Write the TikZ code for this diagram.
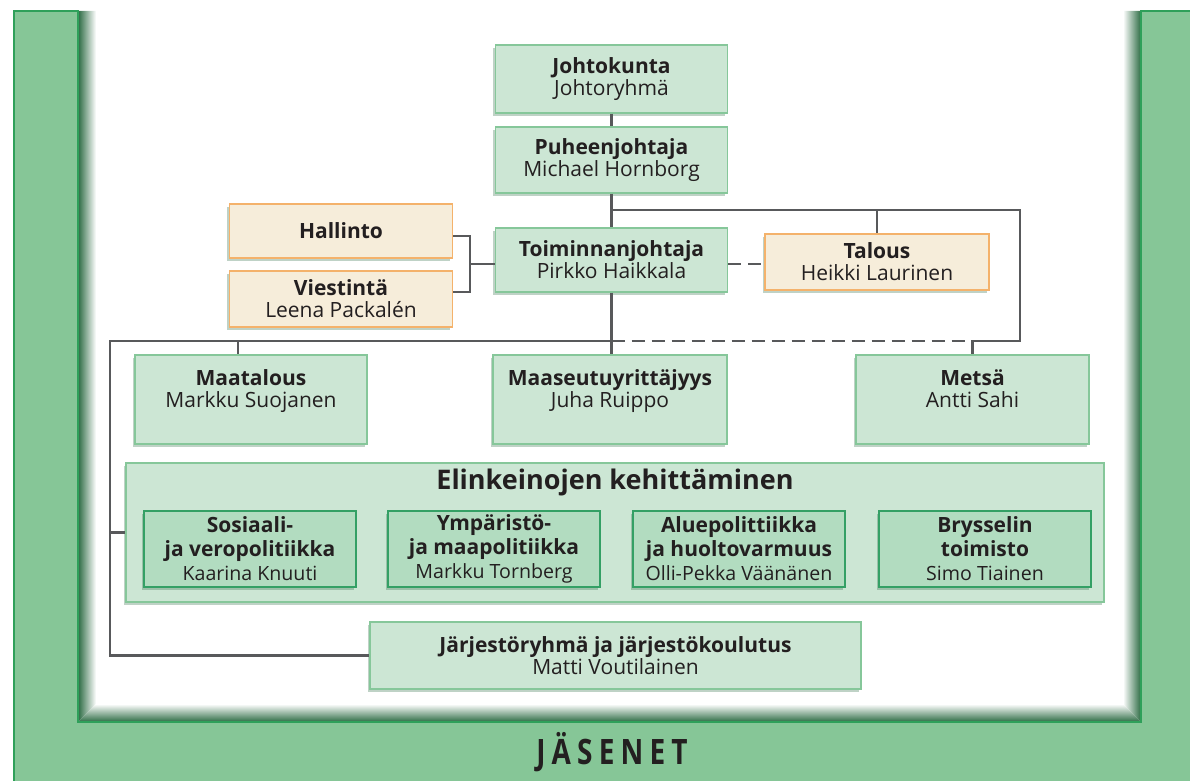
\documentclass[tikz,border=0pt]{standalone}
\usepackage{fontspec}
\setmainfont{Open Sans}
\usetikzlibrary{shadows}
\usepackage{xcolor}
\definecolor{cmint}{HTML}{CCE6D4}
\definecolor{cmintline}{HTML}{86C79A}
\definecolor{csub}{HTML}{B2DCC0}
\definecolor{csubline}{HTML}{34A065}
\definecolor{cbeige}{HTML}{F6EDDA}
\definecolor{corange}{HTML}{F4B26B}
\definecolor{cframe}{HTML}{86C697}
\definecolor{cframeline}{HTML}{2FA05A}
\definecolor{cshade}{HTML}{2C6B43}
\definecolor{cline}{HTML}{58595B}
\definecolor{ctext}{HTML}{231F20}

\newcommand{\subname}[1]{{\fontsize{9.8}{12}\selectfont #1}}

\tikzset{
  orgunit/.style={draw=cmintline, fill=cmint, line width=0.6pt, text=ctext,
    align=center, inner sep=0pt, font=\fontsize{10.5}{11}\selectfont,
    drop shadow={shadow xshift=-1.2pt, shadow yshift=-1.5pt, opacity=0.3, fill=cshade}},
  staffunit/.style={orgunit, draw=corange, fill=cbeige},
  subunit/.style={orgunit, draw=csubline, fill=csub, font=\fontsize{10.5}{12}\selectfont},
  link/.style={draw=cline, line width=1.25pt},
}

\begin{document}
\begin{tikzpicture}[x=0.5pt, y=-0.5pt]
  \useasboundingbox (0,0) rectangle (1190,781);

  % members frame
  \shade[left color=cshade, right color=white] (78,11) -- (96,11) -- (96,704) -- (78,722) -- cycle;
  \shade[left color=white, right color=cshade] (1123,11) -- (1141,11) -- (1141,722) -- (1123,704) -- cycle;
  \shade[top color=white, bottom color=cshade] (78,722) -- (96,704) -- (1123,704) -- (1141,722) -- cycle;
  \filldraw[fill=cframe, draw=cframeline, line width=0.6pt]
    (14,11) -- (78,11) -- (78,722) -- (1141,722) -- (1141,11) -- (1200,11)
    -- (1200,795) -- (14,795) -- cycle;
  \node[font=\fontsize{17.5}{17.5}\selectfont\bfseries, text=ctext] (jasenet) at (612,752)
    {\scalebox{0.8}[1]{\addfontfeature{LetterSpace=22}JÄSENET}};

  % top line
  \node[orgunit, minimum width=116pt, minimum height=34pt] (jk) at (611.5,79)
    {\textbf{Johtokunta}\\Johtoryhmä};
  \node[orgunit, minimum width=116pt, minimum height=33pt] (pj) at (611.5,160)
    {\textbf{Puheenjohtaja}\\Michael Hornborg};
  \node[orgunit, minimum width=116pt, minimum height=32pt] (tj) at (611.5,260)
    {\textbf{Toiminnanjohtaja}\\Pirkko Haikkala};

  % staff
  \node[staffunit, minimum width=111.5pt, minimum height=27pt] (hallinto) at (341,231)
    {\textbf{Hallinto}};
  \node[staffunit, minimum width=111.5pt, minimum height=28pt] (viestinta) at (341,299)
    {\textbf{Viestintä}\\Leena Packalén};
  \node[staffunit, minimum width=112pt, minimum height=28pt] (talous) at (877,262)
    {\textbf{Talous}\\Heikki Laurinen};

  % units
  \node[orgunit, minimum width=116pt, minimum height=44.5pt] (maatalous) at (251,399.5)
    {\textbf{Maatalous}\\Markku Suojanen\\\mbox{}};
  \node[orgunit, minimum width=117pt, minimum height=44.5pt] (myr) at (610,399.5)
    {\textbf{Maaseutuyrittäjyys}\\Juha Ruippo\\\mbox{}};
  \node[orgunit, minimum width=116.5pt, minimum height=44.5pt] (metsa) at (972.5,399.5)
    {\textbf{Metsä}\\Antti Sahi\\\mbox{}};

  \node[orgunit, minimum width=489pt, minimum height=69.5pt,
    label={[font=\fontsize{13.5}{15}\selectfont\bfseries, text=ctext, anchor=north]north:Elinkeinojen kehittäminen}]
    (elink) at (615,532.5) {};
  \node[subunit, minimum width=106pt, minimum height=38pt] (sosiaali) at (250,549)
    {\textbf{Sosiaali-}\\\textbf{ja veropolitiikka}\\\subname{Kaarina Knuuti}};
  \node[subunit, minimum width=106pt, minimum height=38pt] (ymparisto) at (494,549)
    {\textbf{Ympäristö-}\\\textbf{ja maapolitiikka}\\\subname{Markku Tornberg}};
  \node[subunit, minimum width=106pt, minimum height=38pt] (alue) at (739,549)
    {\textbf{Aluepolittiikka}\\\textbf{ja huoltovarmuus}\\\subname{Olli-Pekka Väänänen}};
  \node[subunit, minimum width=106pt, minimum height=38pt] (bryssel) at (985,549)
    {\textbf{Brysselin}\\\textbf{toimisto}\\\subname{Simo Tiainen}};

  \node[orgunit, minimum width=245.5pt, minimum height=33.5pt] (jarj) at (615.5,655.5)
    {\textbf{Järjestöryhmä ja järjestökoulutus}\\Matti Voutilainen};

  % connectors
  \coordinate (fork) at (611.5,210);
  \coordinate (ne) at (1020,210);
  \coordinate (se) at (1020,341);
  \coordinate (nw) at (110,341);
  \coordinate (br) at (470,264);

  \draw[link] (jk) -- (pj);
  \draw[link] (pj) -- (tj);
  \draw[link] (fork) -| (talous.north);
  \draw[link] (fork) -- (ne) -- (se) -| (metsa.north);
  \draw[link, dash pattern=on 6.5pt off 3.5pt] (tj.south |- se) -- (metsa.north |- se);
  \draw[link] (tj.south) -- (tj.south |- myr.north);
  \draw[link] (tj.south |- nw) -- (nw) |- (jarj.west);
  \draw[link] ([xshift=-6.5pt]maatalous.north |- nw) -- ([xshift=-6.5pt]maatalous.north);
  \draw[link] (nw |- elink.west) -- (elink.west);
  \draw[link] ([yshift=-2.5pt]hallinto.east) -| (br) |- ([yshift=3.5pt]viestinta.east);
  \draw[link] (br) -- (tj.west |- br);
  \draw[link, dash pattern=on 6.5pt off 3.5pt] (tj.east |- br) -- (talous.west |- br);
\end{tikzpicture}
\end{document}
